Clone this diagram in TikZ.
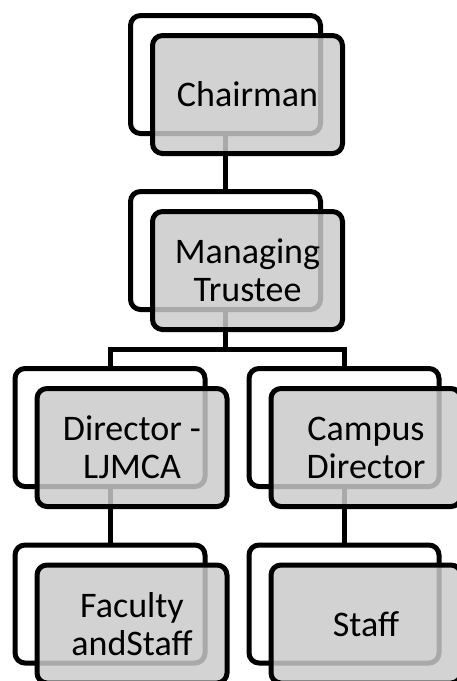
\documentclass[tikz,border=0pt]{standalone}
\usepackage{fontspec}
\setmainfont{Carlito}
\definecolor{boxgray}{RGB}{202,202,202}
\begin{document}
\begin{tikzpicture}[
					x=1pt, y=-1pt,
					every node/.style={rounded corners=10pt, line width=5pt, inner sep=0pt, minimum width=190pt, minimum height=118pt},
					back/.style={draw, fill=white},
					front/.style={draw, fill=boxgray, fill opacity=0.84, text opacity=1, align=center, font=\fontsize{36}{38}\selectfont},
					link/.style={line width=5pt}
				]
				\useasboundingbox (0,0) rectangle (456,681);
				\node[back] (chairmanBack) at (225.5,74.5) {};
				\node[back] (managingBack) at (225.5,250.5) {};
				\node[back] (directorBack) at (110,427.5) {};
				\node[back] (campusBack) at (344,427.5) {};
				\node[back] (facultyBack) at (110,604) {};
				\node[back] (staffBack) at (344,604) {};
				\coordinate (bar) at (225.5,349.5);
				\draw[link] (chairmanBack) -- (managingBack);
				\draw[link] (managingBack) -- (bar);
				\draw[link] (directorBack) |- (bar) -| (campusBack);
				\draw[link] (directorBack) -- (facultyBack);
				\draw[link] (campusBack) -- (staffBack);
				\node[front] (chairman) at (247.5,94.5) {Chairman};
				\node[front] (managing) at (247.5,270.5) {Managing\\Trustee};
				\node[front] (director) at (132,447.5) {Director -\\LJMCA};
				\node[front] (campus) at (366,447.5) {Campus\\Director};
				\node[front] (faculty) at (132,624) {Faculty\\andStaff};
				\node[front] (staff) at (366,624) {Staff};
			\end{tikzpicture}
\end{document}
